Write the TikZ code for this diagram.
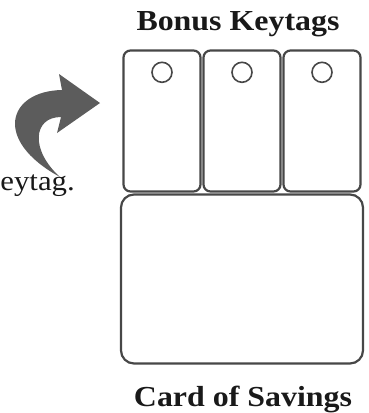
\documentclass[tikz,border=0pt]{standalone}
\usepackage{fontspec}
\setmainfont{Liberation Serif}
\usetikzlibrary{positioning}
\definecolor{edgegray}{HTML}{474747}
\definecolor{arrowgray}{HTML}{5C5C5C}
\tikzset{
    tagbox/.style = {rectangle, rounded corners=7pt, line width=2.2pt, draw=edgegray, fill=white, inner sep=0pt, outer sep=0pt, minimum width=77pt, minimum height=141pt},
    cardbox/.style = {rectangle, rounded corners=13pt, line width=2.2pt, draw=edgegray, fill=white, inner sep=0pt, outer sep=0pt, minimum width=242pt, minimum height=169pt},
    holecirc/.style = {circle, line width=1.6pt, draw=edgegray, inner sep=0pt, minimum size=20pt},
    titletext/.style = {font=\fontsize{29}{32}\selectfont\bfseries, inner sep=0pt, xscale=1.1, text=black!90},
    sidetext/.style = {font=\fontsize{28}{30}\selectfont, inner sep=0pt, xscale=1.1, text=black!90}
}
\begin{document}
\begin{tikzpicture}[x=1pt, y=-1pt]
  \useasboundingbox (0,0) rectangle (369,413);

  % keytags
  \node[tagbox] (tag1) at (162,121) {};
  \node[tagbox, right=3pt of tag1] (tag2) {};
  \node[tagbox, right=3pt of tag2] (tag3) {};
  \node[holecirc, below=11pt of tag1.north] (hole1) {};
  \node[holecirc, below=11pt of tag2.north] (hole2) {};
  \node[holecirc, below=11pt of tag3.north] (hole3) {};

  % card
  \node[cardbox, below=3pt of tag2] (card) {};

  % labels
  \node[titletext, anchor=base] (bonus) at (238,30) {Bonus Keytags};
  \node[titletext, anchor=base] (savings) at (243,406) {Card of Savings};
  \node[sidetext, anchor=base east] (keytag) at (75,190) {eytag.};

  % curved arrow
  \fill[arrowgray] (60,177) .. controls (-8,140) and (8,91) .. (62,90)
    -- (59,74) -- (100,103) -- (57,133) -- (61,117)
    .. controls (33,117) and (30,150) .. cycle;
\end{tikzpicture}
\end{document}
